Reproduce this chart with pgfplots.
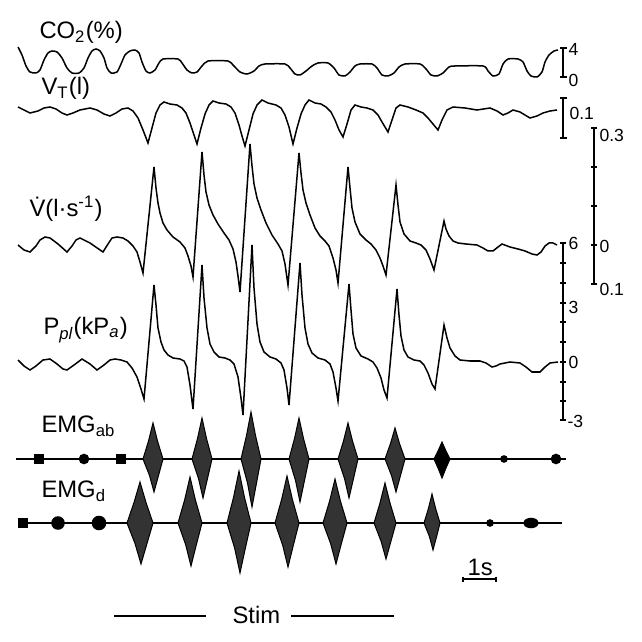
\documentclass[border=0pt]{standalone}
\usepackage{fontspec}
\setmainfont{Liberation Sans}
\usepackage{pgfplots}
\pgfplotsset{compat=1.18}

\newcommand{\lab}{\fontsize{9.5}{11}\selectfont}
\newcommand{\num}{\fontsize{7}{8}\selectfont}

\begin{document}
\begin{tikzpicture}
\begin{axis}[
    scale only axis, width=9cm, height=9cm,
    xmin=0, xmax=642, ymin=0, ymax=642, y dir=reverse,
    hide axis, clip=false,
    every axis plot/.append style={black, line width=0.6pt},
]
\path (rel axis cs:0,0) rectangle (rel axis cs:1,1);

% CO2
\addplot[smooth, tension=0.4] coordinates {
(18,47)(22,55)(26,66)(30,72)(36,73)(40,70)(44,60)(48,53)(52,51)(57,52)(62,58)(67,68)(72,73)(79,73)(84,68)(88,58)(92,51)(96,49)(100,51)(104,58)(107,68)(111,73)(117,72)(121,64)(125,55)(130,51)(135,50)(139,53)(142,62)(146,71)(150,73)(155,70)(159,63)(163,59)(178,59)(182,63)(187,70)(192,73)(197,72)(202,66)(208,61)(228,61)(233,65)(240,72)(247,74)(254,71)(259,66)(265,64)(285,64)(290,68)(295,74)(300,75)(306,71)(312,66)(318,63)(328,63)(334,68)(339,75)(345,76)(350,72)(355,66)(360,64)(372,64)(377,68)(382,75)(388,76)(394,73)(399,67)(405,64)(420,64)(426,69)(431,75)(437,76)(443,73)(449,67)(455,66)(483,66)(488,71)(493,76)(499,74)(503,64)(508,59)(518,59)(523,62)(527,71)(531,76)(537,77)(542,72)(545,62)(549,55)(554,51)(558,50)};

% VT
\addplot[mark=none] coordinates {
(18,107)(24,110)(30,113)(38,111)(44,108)(50,107)(56,109)(62,113)(67,115)(73,113)(80,110)(90,108)(97,110)(104,114)(110,116)(116,113)(122,109)(128,108)(133,111)(138,118)(143,130)(148,143)(152,128)(156,113)(160,105)(164,102)(170,104)(177,105)(182,108)(186,113)(190,123)(194,135)(197,144)(201,128)(205,114)(209,105)(213,101)(219,103)(226,104)(231,107)(235,113)(239,125)(242,136)(245,146)(249,130)(253,114)(257,105)(262,100)(268,103)(276,105)(281,108)(285,115)(289,127)(293,144)(297,128)(301,114)(305,105)(309,100)(315,103)(321,104)(326,107)(331,112)(335,120)(339,130)(343,137)(347,124)(351,110)(355,105)(361,107)(367,108)(373,110)(378,115)(382,122)(388,132)(392,120)(396,108)(400,105)(408,107)(416,110)(423,113)(428,118)(433,124)(438,130)(442,120)(447,110)(453,107)(465,108)(477,110)(490,108)(497,111)(503,115)(508,113)(513,110)(520,112)(530,118)(537,116)(543,113)(550,111)(557,110)};

% V dot
\addplot[mark=none] coordinates {
(18,245)(24,250)(30,252)(36,246)(40,240)(45,237)(50,238)(58,244)(67,252)(72,246)(76,240)(80,238)(90,243)(103,252)(108,244)(112,238)(117,237)(123,238)(128,241)(133,246)(137,252)(140,262)(143,273)(154,167)(156,188)(158,203)(160,213)(163,223)(167,230)(173,237)(180,242)(185,248)(188,256)(191,266)(193,277)(202,152)(204,175)(206,192)(209,205)(213,215)(218,224)(224,233)(229,240)(233,249)(236,262)(238,276)(240,292)(250,144)(252,166)(254,184)(257,198)(261,210)(266,223)(272,235)(278,244)(282,251)(285,264)(288,285)(299,153)(301,173)(303,190)(306,203)(310,215)(315,228)(320,236)(325,241)(329,246)(333,258)(336,270)(338,283)(348,167)(350,188)(352,208)(355,222)(360,234)(366,240)(371,244)(376,250)(380,258)(383,266)(386,275)(396,185)(398,205)(400,222)(404,234)(410,241)(416,243)(421,245)(426,250)(430,259)(434,270)(444,221)(446,229)(449,236)(453,241)(458,243)(466,244)(477,245)(483,248)(488,251)(493,251)(498,247)(502,244)(510,247)(518,249)(525,251)(532,254)(537,255)(541,252)(545,246)(549,243)(553,243)(557,245)};

% Ppl
\addplot[mark=none] coordinates {
(18,360)(24,366)(30,370)(36,366)(43,360)(50,359)(57,364)(63,369)(67,370)(74,365)(82,359)(90,364)(97,370)(104,365)(110,360)(115,359)(121,360)(127,362)(132,368)(137,377)(141,389)(144,399)(154,285)(156,305)(158,328)(161,342)(164,350)(168,355)(173,358)(180,359)(184,361)(187,367)(190,385)(193,409)(202,265)(204,298)(207,328)(210,344)(214,352)(219,357)(225,358)(230,360)(234,364)(238,377)(241,398)(243,415)(252,245)(254,288)(257,324)(260,342)(264,352)(270,357)(276,359)(281,363)(284,370)(287,388)(289,405)(300,263)(302,295)(305,328)(308,344)(312,353)(318,358)(325,360)(330,364)(333,372)(336,388)(338,401)(349,284)(351,310)(353,334)(356,348)(361,356)(368,359)(373,362)(377,368)(381,378)(384,390)(387,398)(397,289)(399,315)(401,336)(404,350)(408,357)(414,360)(420,361)(424,365)(428,373)(432,384)(435,389)(444,325)(447,338)(450,348)(455,356)(460,360)(470,361)(480,361)(486,363)(492,367)(496,366)(500,364)(510,362)(520,363)(526,367)(532,372)(540,372)(545,367)(550,363)(558,362)};

% EMG baselines
\addplot[line width=0.8pt] coordinates {(16,459)(566,459)};
\addplot[line width=0.8pt] coordinates {(18,523)(562,523)};

% EMG ab bursts
\addplot[fill=black!80, line width=0.4pt] coordinates {(153,423)(157.5,441)(163,459)(158.5,475.5)(154,492)(149.5,475.5)(143,459)(148.5,441)} -- cycle;
\addplot[fill=black!80, line width=0.4pt] coordinates {(202,418)(206.5,438.5)(212,459)(207.5,478.5)(203,498)(198.5,478.5)(192,459)(197.5,438.5)} -- cycle;
\addplot[fill=black!80, line width=0.4pt] coordinates {(251,412)(255.5,435.5)(261,459)(256.5,483)(252,507)(247.5,483)(241,459)(246.5,435.5)} -- cycle;
\addplot[fill=black!80, line width=0.4pt] coordinates {(299,418)(303.5,438.5)(309,459)(304.5,480.5)(300,502)(295.5,480.5)(289,459)(294.5,438.5)} -- cycle;
\addplot[fill=black!80, line width=0.4pt] coordinates {(348,423)(352.5,441)(358,459)(353.5,478.5)(349,498)(344.5,478.5)(338,459)(343.5,441)} -- cycle;
\addplot[fill=black!80, line width=0.4pt] coordinates {(395,428)(399.5,443.5)(405,459)(400.5,475.5)(396,492)(391.5,475.5)(385,459)(390.5,443.5)} -- cycle;
\addplot[fill=black, line width=0.4pt] coordinates {(442,442)(446,451)(450,459)(446,468)(442,478)(438,468)(434,459)(438,451)} -- cycle;

% EMG d bursts
\addplot[fill=black!80, line width=0.4pt] coordinates {(140,482)(146,502.5)(153,523)(147,543.5)(141,564)(135,543.5)(127,523)(134,502.5)} -- cycle;
\addplot[fill=black!80, line width=0.4pt] coordinates {(190,477)(195.4,500)(202,523)(196.4,544.5)(191,566)(185.6,544.5)(178,523)(184.6,500)} -- cycle;
\addplot[fill=black!80, line width=0.4pt] coordinates {(239,471)(244.4,497)(251,523)(245.4,548)(240,573)(234.6,548)(227,523)(233.6,497)} -- cycle;
\addplot[fill=black!80, line width=0.4pt] coordinates {(287,476)(292.4,499.5)(299,523)(293.4,545)(288,567)(282.6,545)(275,523)(281.6,499.5)} -- cycle;
\addplot[fill=black!80, line width=0.4pt] coordinates {(335,479)(340.4,501)(347,523)(341.4,543.5)(336,564)(330.6,543.5)(323,523)(329.6,501)} -- cycle;
\addplot[fill=black!80, line width=0.4pt] coordinates {(385,483)(390,503)(396,523)(391,541)(386,559)(381,541)(374,523)(380,503)} -- cycle;
\addplot[fill=black!80, line width=0.4pt] coordinates {(432,494)(435.6,508.5)(440,523)(436.6,536.5)(433,550)(429.4,536.5)(424,523)(428.4,508.5)} -- cycle;

% EMG tonic blobs
\addplot[only marks, mark=square*, mark size=1.6pt] coordinates {(39,459)(121,459)};
\addplot[only marks, mark=*, mark size=1.8pt] coordinates {(84,459)(556,459)};
\addplot[only marks, mark=*, mark size=1.2pt] coordinates {(504,459)(490,523)};
\addplot[only marks, mark=square*, mark size=1.8pt] coordinates {(23,523)};
\addplot[only marks, mark=*, mark size=2.4pt] coordinates {(58,523)};
\addplot[only marks, mark=*, mark size=2.6pt] coordinates {(99,523)};
\addplot[only marks, mark=*, mark size=1.8pt, mark options={xscale=1.5}] coordinates {(531,523)};

% scale bars
\addplot[line width=0.8pt, mark=-, mark size=1.4pt] coordinates {(563,48)(563,77)};
\addplot[line width=0.8pt, mark=-, mark size=1.4pt] coordinates {(563,98)(563,138)};
\addplot[line width=0.8pt, mark=-, mark size=1.2pt] coordinates {(594,128)(594,167)(594,206)(594,245)(594,284)};
\addplot[line width=0.8pt, mark=-, mark size=1.2pt] coordinates {(563,243)(563,263)(563,283)(563,303)(563,322)(563,342)(563,362)(563,382)(563,401)(563,420)};
\addplot[line width=0.6pt, mark=|, mark size=1pt] coordinates {(463,579)(496,579)};
\addplot[line width=0.6pt] coordinates {(114,616)(206,616)};
\addplot[line width=0.6pt] coordinates {(291,616)(394,616)};

% labels
\node[anchor=base west, inner sep=0] at (axis cs:39,39) {\lab CO\textsubscript{2}(\%)};
\node[anchor=base west, inner sep=0] at (axis cs:41,95) {\lab V\textsubscript{T}(l)};
\node[anchor=base west, inner sep=0] at (axis cs:29,217) {\lab \.{V}(l·s\textsuperscript{-1})};
\node[anchor=base west, inner sep=0] at (axis cs:43,335) {\lab P\textsubscript{\itshape pl}(kP\textsubscript{\itshape a})};
\node[anchor=base west, inner sep=0] at (axis cs:41,432) {\lab EMG\textsubscript{ab}};
\node[anchor=base west, inner sep=0] at (axis cs:41,497) {\lab EMG\textsubscript{d}};
\node[anchor=base west, inner sep=0] at (axis cs:467,575) {\lab 1s};
\node[anchor=west, inner sep=0] at (axis cs:232,615) {\lab Stim};

\node[anchor=west, inner sep=0] at (axis cs:568,49) {\num 4};
\node[anchor=west, inner sep=0] at (axis cs:568,80) {\num 0};
\node[anchor=west, inner sep=0] at (axis cs:569,113) {\num 0.1};
\node[anchor=west, inner sep=0] at (axis cs:599,135) {\num 0.3};
\node[anchor=west, inner sep=0] at (axis cs:599,246) {\num 0};
\node[anchor=west, inner sep=0] at (axis cs:599,289) {\num 0.1};
\node[anchor=west, inner sep=0] at (axis cs:568,243) {\num 6};
\node[anchor=west, inner sep=0] at (axis cs:568,307) {\num 3};
\node[anchor=west, inner sep=0] at (axis cs:568,362) {\num 0};
\node[anchor=west, inner sep=0] at (axis cs:567,421) {\num -3};
\end{axis}
\end{tikzpicture}
\end{document}
